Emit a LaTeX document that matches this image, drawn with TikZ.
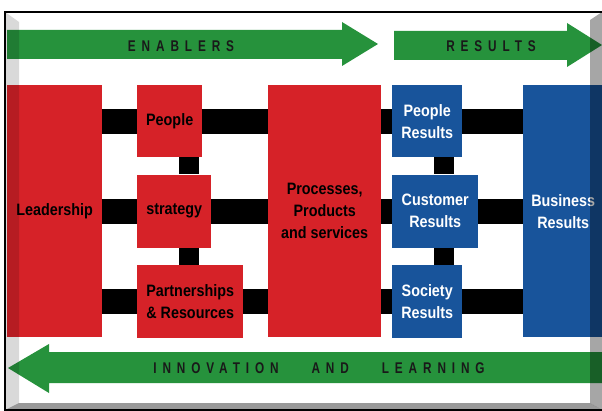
\documentclass[tikz,border=0pt]{standalone}
\usepackage{fontspec}
\setmainfont{Liberation Sans}[FakeStretch=0.87]
\newfontfamily\headfont[LetterSpace=38,FakeStretch=0.76]{Liberation Sans}
\usetikzlibrary{positioning}
\definecolor{boxred}{RGB}{214,34,40}
\definecolor{boxblue}{RGB}{24,84,155}
\definecolor{bandgreen}{RGB}{38,146,60}

\begin{document}
\begin{tikzpicture}[x=1pt,y=-1pt,
  box/.style={inner sep=0pt,align=center,anchor=north west,font=\bfseries\fontsize{16.5}{22}\selectfont},
  red box/.style={box,fill=boxred},
  blue box/.style={box,fill=boxblue,text=white},
  link bar/.style={draw,line width=25pt},
  link stub/.style={draw,line width=20pt},
  band text/.style={font=\headfont\bfseries\fontsize{15.5}{17}\selectfont,text=black!90}]
  \useasboundingbox[fill=white] (0,0) rectangle (602,411);

  % green bands
  \fill[bandgreen] (7,30) -- (342,30) -- (342,22) -- (378,44) -- (342,66) -- (342,59) -- (7,59) -- cycle;
  \fill[bandgreen] (394,31) -- (567,31) -- (567,23) -- (602,45) -- (567,67) -- (567,60) -- (394,60) -- cycle;
  \fill[bandgreen] (602,352) -- (49,352) -- (49,344) -- (8,368) -- (49,393) -- (49,383) -- (602,383) -- cycle;
  \node[band text] (enab) at (181,46) {ENABLERS};
  \node[band text] (res) at (491,46) {RESULTS};
  \node[band text] (innov) at (319,368) {INNOVATION\hspace{33pt}AND\hspace{33pt}LEARNING};

  % enablers
  \node[red box,minimum width=95pt,minimum height=252pt] (lead) at (7,85) {Leadership};
  \node[red box,minimum width=65pt,minimum height=72pt] (peop) at (137,85) {People};
  \node[red box,minimum width=74pt,minimum height=73pt] (strat) [below=17pt of peop.south west,anchor=north west] {strategy};
  \node[red box,minimum width=106pt,minimum height=73pt] (part) [below=17pt of strat.south west,anchor=north west] {Partnerships\\\& Resources};
  \node[red box,minimum width=113pt,minimum height=252pt] (proc) at (268,85) {Processes,\\Products\\and services};

  % results
  \node[blue box,minimum width=70pt,minimum height=72pt] (peopres) at (392,85) {People\\Results};
  \node[blue box,minimum width=86pt,minimum height=73pt] (custres) [below=17pt of peopres.south west,anchor=north west] {Customer\\Results};
  \node[blue box,minimum width=70pt,minimum height=73pt] (socres) [below=17pt of custres.south west,anchor=north west] {Society\\Results};
  \node[blue box,minimum width=80pt,minimum height=252pt] (bus) at (523,85) {Business\\Results};

  \coordinate (lx) at (189,0);
  \coordinate (rx) at (443.5,0);

  \path[link bar]
    (lead.east |- peop.center) edge (peop.west)
    (peop.east) edge (proc.west |- peop.center)
    (lead.east |- strat.center) edge (strat.west)
    (strat.east) edge (proc.west |- strat.center)
    (lead.east |- part.center) edge (part.west)
    (part.east) edge (proc.west |- part.center)
    (proc.east |- peopres.center) edge (peopres.west)
    (peopres.east) edge (bus.west |- peopres.center)
    (proc.east |- custres.center) edge (custres.west)
    (custres.east) edge (bus.west |- custres.center)
    (proc.east |- socres.center) edge (socres.west)
    (socres.east) edge (bus.west |- socres.center);
  \path[link stub]
    (peop.south -| lx) edge (strat.north -| lx)
    (strat.south -| lx) edge (part.north -| lx)
    (peopres.south -| rx) edge (custres.north -| rx)
    (custres.south -| rx) edge (socres.north -| rx);

  % bevel frame
  \fill[black,fill opacity=0.15] (5,12) -- (19,22) -- (19,403) -- (5,410) -- cycle;
  \fill[black,fill opacity=0.35] (602,12) -- (590,20) -- (590,403) -- (602,410) -- cycle;
  \fill[black,fill opacity=0.4] (5,410) -- (19,403) -- (590,403) -- (602,410) -- cycle;
  \draw[line width=1.2pt] (5,12) rectangle (604,410);
\end{tikzpicture}
\end{document}
